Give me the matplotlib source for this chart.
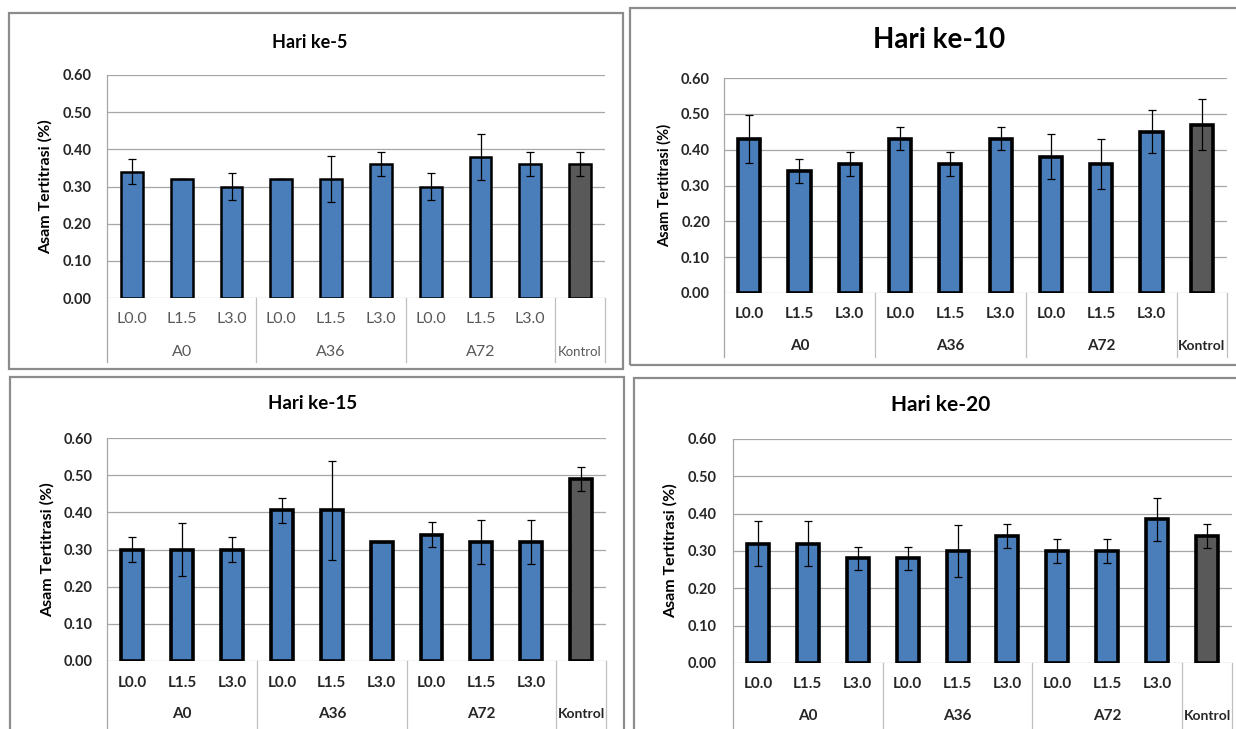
import matplotlib
matplotlib.use("Agg")
import matplotlib.pyplot as plt
import matplotlib.transforms as mtransforms
from matplotlib.patches import Rectangle

plt.rcParams['font.family'] = ['Lato', 'DejaVu Sans']

# category labels (lower row) and treatment groups (upper row)
levels = ['L0.0', 'L1.5', 'L3.0', 'L0.0', 'L1.5', 'L3.0', 'L0.0', 'L1.5', 'L3.0', '']
groups = ['A0', 'A36', 'A72', 'Kontrol']
group_span = [(0, 2), (3, 5), (6, 8), (9, 9)]

# mean titratable acid (%) and error (+/-) for each sampling day
hari5_mean = [0.34, 0.32, 0.30, 0.32, 0.32, 0.36, 0.30, 0.38, 0.36, 0.36]
hari5_err = [0.033, 0.0, 0.035, 0.0, 0.062, 0.033, 0.035, 0.062, 0.033, 0.033]

hari10_mean = [0.43, 0.34, 0.36, 0.43, 0.36, 0.43, 0.38, 0.36, 0.45, 0.47]
hari10_err = [0.067, 0.033, 0.033, 0.032, 0.033, 0.032, 0.063, 0.07, 0.06, 0.07]

hari15_mean = [0.30, 0.30, 0.30, 0.405, 0.405, 0.32, 0.34, 0.32, 0.32, 0.49]
hari15_err = [0.033, 0.072, 0.033, 0.033, 0.133, 0.0, 0.034, 0.06, 0.06, 0.033]

hari20_mean = [0.32, 0.32, 0.28, 0.28, 0.30, 0.34, 0.30, 0.30, 0.385, 0.34]
hari20_err = [0.06, 0.06, 0.031, 0.031, 0.07, 0.033, 0.031, 0.031, 0.057, 0.033]

W, H = 1236, 729
fig = plt.figure(figsize=(W / 100, H / 100), dpi=100)
fig.patch.set_facecolor('white')

# pixel layout of each chart box
panels = [
    dict(title='Hari ke-5', mean=hari5_mean, err=hari5_err,
         box=(9, 13, 623, 369), plot=(107, 75, 605, 298),
         cat_y=319, grp_y=352, sep_y=362, title_xy=(310, 42), title_fs=13,
         ylab_x=45, ylab_fs=11.5, ylab_w='bold', tick_pad=11, tick_fs=10.5,
         lvl_w='normal', lvl_c='#595959', lvl_fs=11.5, grp_fs=11.5, kon_fs=9.5,
         edge_lw=1.8),
    dict(title='Hari ke-10', mean=hari10_mean, err=hari10_err,
         box=(630, 8, 1245, 365), plot=(724, 78, 1227, 293),
         cat_y=314, grp_y=346, sep_y=357, title_xy=(939, 40), title_fs=20,
         ylab_x=664, ylab_fs=10.5, ylab_w='bold', tick_pad=10, tick_fs=10.5,
         lvl_w='bold', lvl_c='#262626', lvl_fs=11, grp_fs=11, kon_fs=10,
         edge_lw=2.6),
    dict(title='Hari ke-15', mean=hari15_mean, err=hari15_err,
         box=(10, 377, 624, 740), plot=(107.5, 438, 606, 661),
         cat_y=683, grp_y=714, sep_y=735, title_xy=(313, 404), title_fs=13.5,
         ylab_x=47, ylab_fs=11.5, ylab_w='bold', tick_pad=10.5, tick_fs=10.5,
         lvl_w='bold', lvl_c='#262626', lvl_fs=11, grp_fs=11, kon_fs=10,
         edge_lw=2.6),
    dict(title='Hari ke-20', mean=hari20_mean, err=hari20_err,
         box=(634, 378, 1245, 740), plot=(733, 439, 1232, 663),
         cat_y=684, grp_y=716, sep_y=735, title_xy=(941, 405), title_fs=15,
         ylab_x=670, ylab_fs=11.5, ylab_w='bold', tick_pad=12, tick_fs=10.5,
         lvl_w='bold', lvl_c='#262626', lvl_fs=11, grp_fs=11, kon_fs=10,
         edge_lw=2.6),
]

bar_colors = ['#4A7EBB'] * 9 + ['#595959']
grid_c = '#A6A6A6'
sep_c = '#BFBFBF'


def fx(x):
    return x / W


def fy(y):
    return 1 - y / H


for p in panels:
    # outer frame of the chart
    bx0, by0, bx1, by1 = p['box']
    fig.add_artist(Rectangle((fx(bx0), fy(by1)), fx(bx1 - bx0), (by1 - by0) / H,
                             transform=fig.transFigure, fill=False,
                             edgecolor='#8C8C8C', linewidth=1.6))

    x0, y0, x1, y1 = p['plot']
    ax = fig.add_axes([fx(x0), fy(y1), fx(x1 - x0), (y1 - y0) / H])
    ax.set_xlim(-0.5, 9.5)
    ax.set_ylim(0, 0.6)
    ax.patch.set_alpha(0)
    for s in ax.spines.values():
        s.set_visible(False)

    ax.set_yticks([0, 0.1, 0.2, 0.3, 0.4, 0.5, 0.6])
    ax.set_yticklabels(['%.2f' % v for v in ax.get_yticks()],
                       fontsize=p['tick_fs'], fontweight='bold', color='#262626')
    ax.tick_params(axis='y', length=0, pad=p['tick_pad'])
    ax.set_xticks([])
    ax.yaxis.grid(True, color=grid_c, linewidth=0.9)
    ax.set_axisbelow(True)

    xs = list(range(len(levels)))
    ax.bar(xs, p['mean'], width=0.44, color=bar_colors, edgecolor='black',
           linewidth=p['edge_lw'], zorder=3)
    ax.errorbar(xs, p['mean'], yerr=p['err'], fmt='none', ecolor='black',
                elinewidth=0.9, capsize=3, capthick=0.9, zorder=4)

    # two-level category axis below the plot
    trans = mtransforms.blended_transform_factory(ax.transData, ax.transAxes)
    hpx = y1 - y0

    def frac(ypx):
        return -(ypx - y1) / hpx

    sep_bottom = frac(p['sep_y'])
    ax.plot([-0.5, -0.5], [1, sep_bottom], transform=trans, color=grid_c,
            linewidth=0.9, clip_on=False)
    for xsep in [2.5, 5.5, 8.5, 9.5]:
        ax.plot([xsep, xsep], [0, sep_bottom], transform=trans, color=sep_c,
                linewidth=0.9, clip_on=False)

    for i, lab in enumerate(levels):
        ax.text(i, frac(p['cat_y']), lab, transform=trans, ha='center',
                va='center', fontsize=p['lvl_fs'], fontweight=p['lvl_w'],
                color=p['lvl_c'])
    for g, (a, b) in zip(groups, group_span):
        fs = p['kon_fs'] if g == 'Kontrol' else p['grp_fs']
        ax.text((a + b) / 2, frac(p['grp_y']), g, transform=trans, ha='center',
                va='center', fontsize=fs, fontweight=p['lvl_w'], color=p['lvl_c'])

    fig.text(fx(p['title_xy'][0]), fy(p['title_xy'][1]), p['title'],
             ha='center', va='center', fontsize=p['title_fs'], fontweight='bold',
             color='black')
    fig.text(fx(p['ylab_x']), fy((y0 + y1) / 2), 'Asam Tertitrasi (%)',
             rotation=90, ha='center', va='center', fontsize=p['ylab_fs'],
             fontweight=p['ylab_w'], color='black')

fig.savefig('out.png', dpi=100, facecolor='white')
